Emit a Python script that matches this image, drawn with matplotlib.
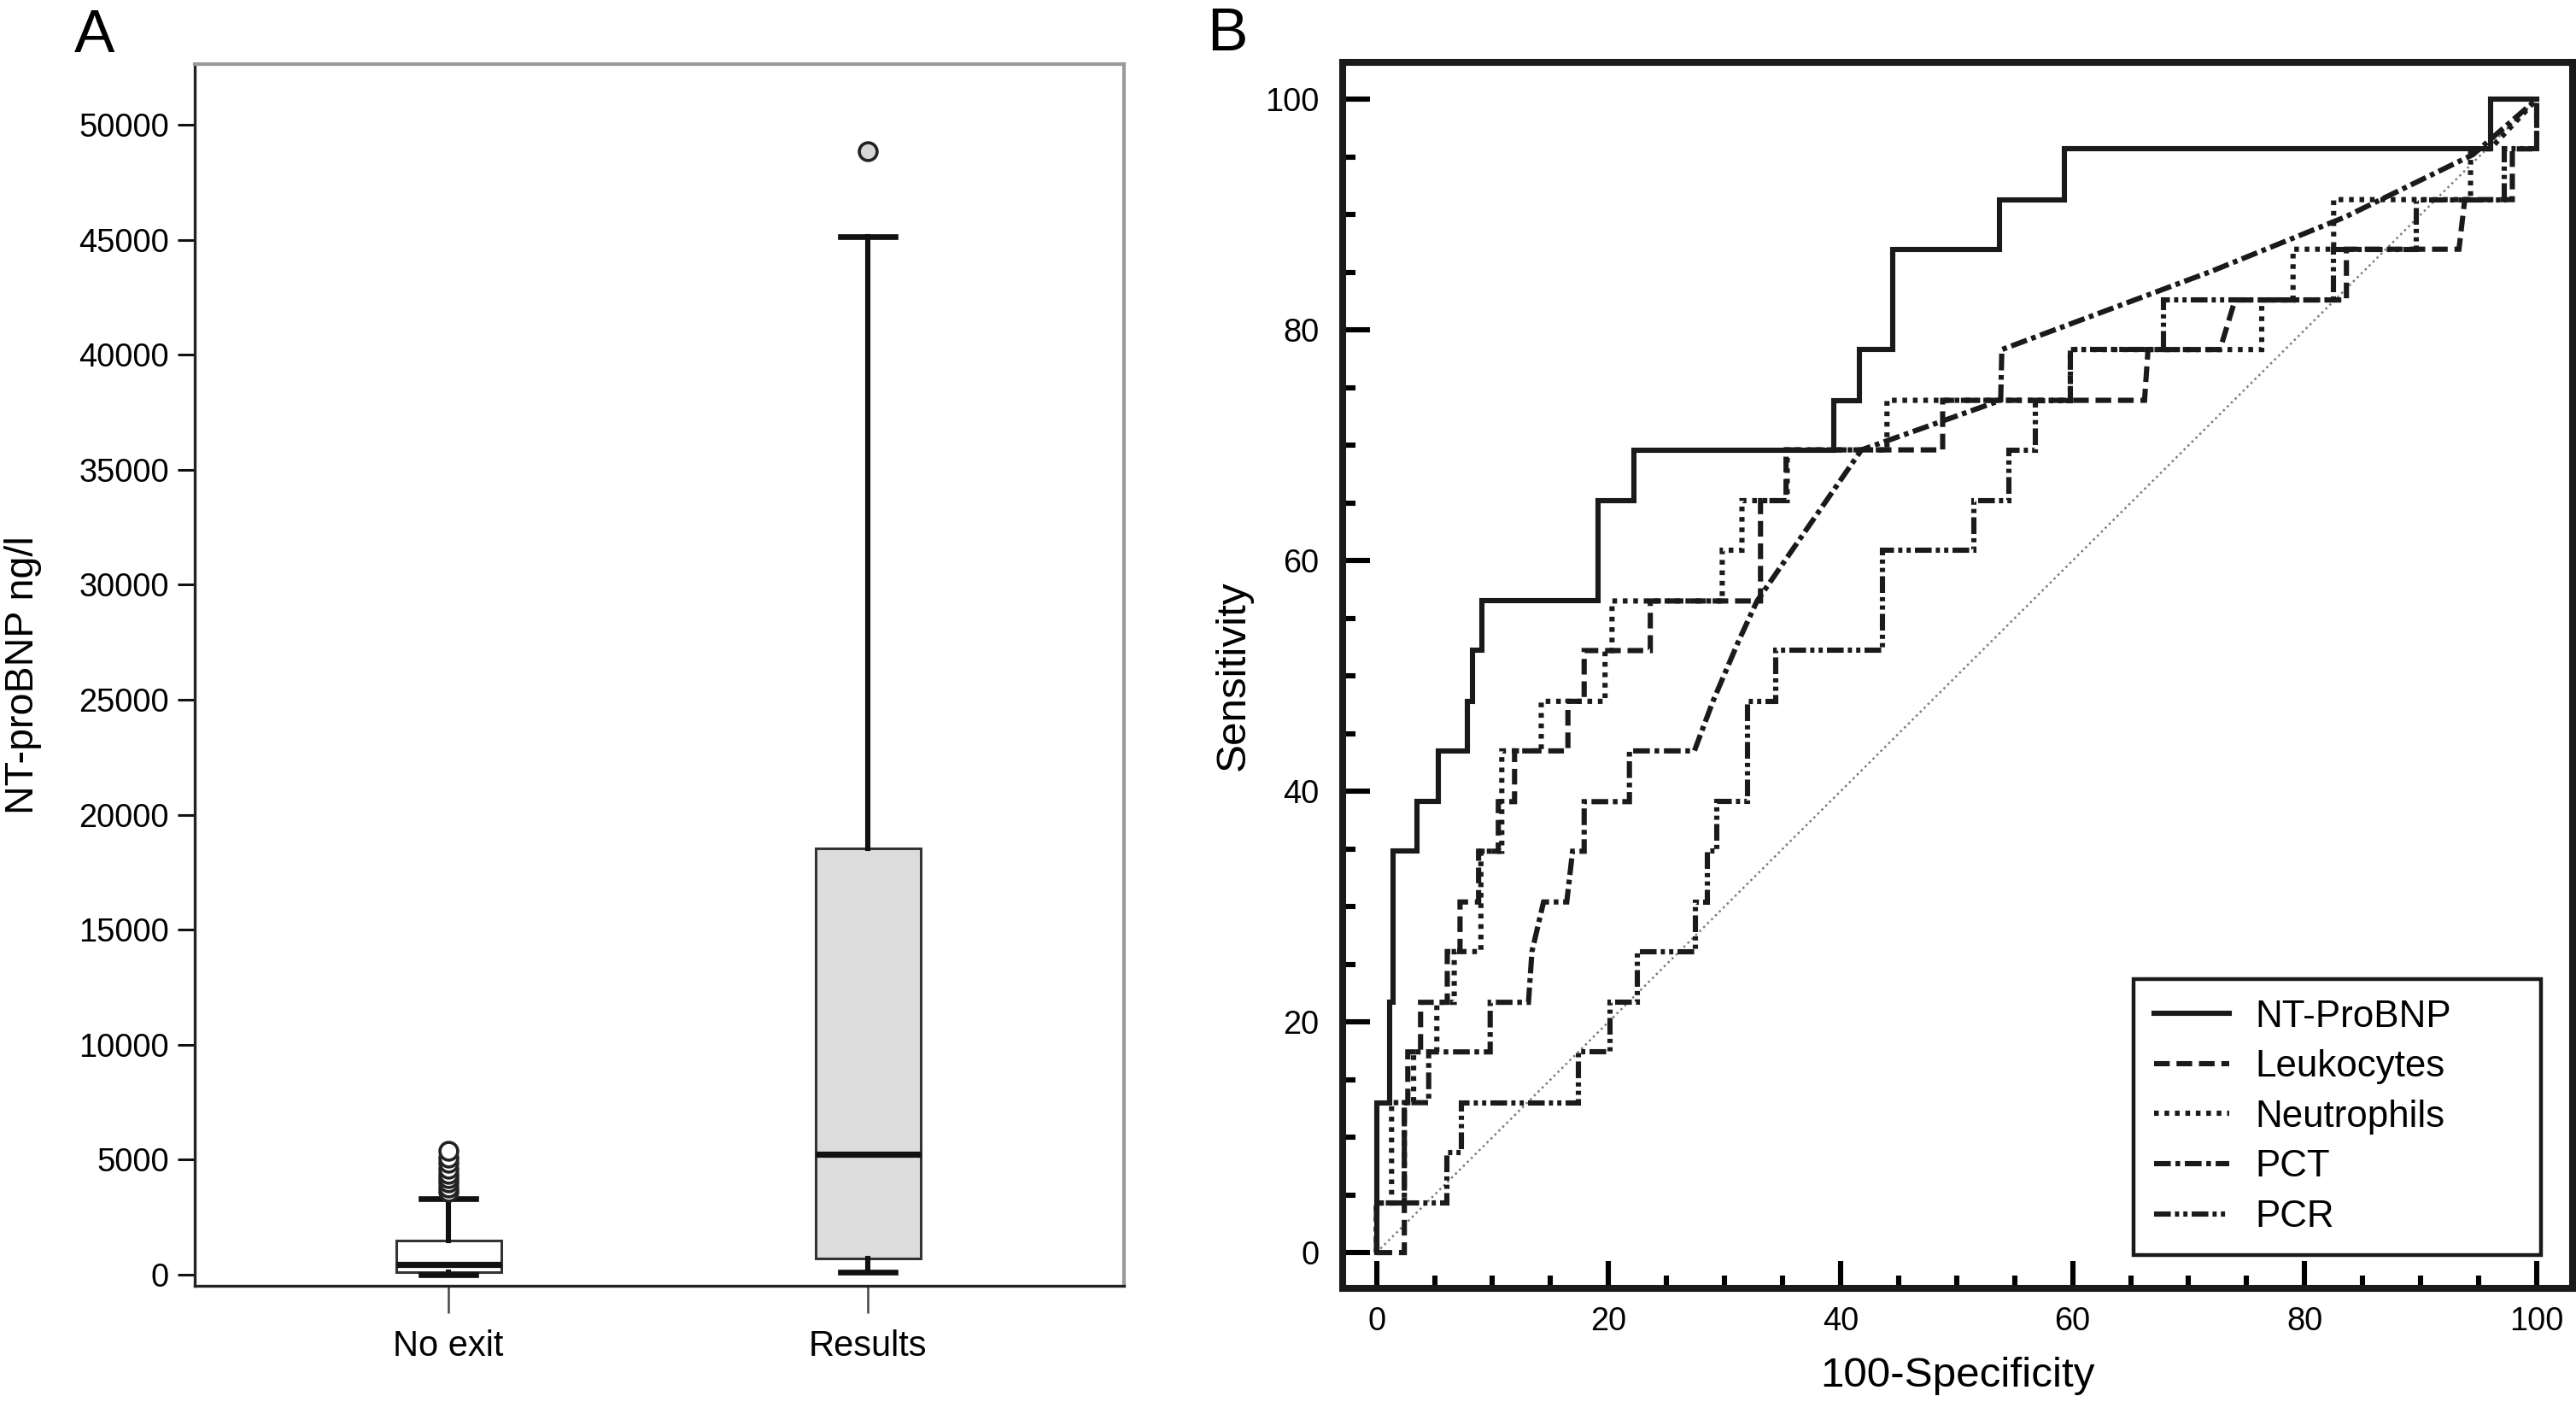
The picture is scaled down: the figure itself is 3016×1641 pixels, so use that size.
import numpy as np
import matplotlib
matplotlib.use('Agg')
import matplotlib.pyplot as plt
from matplotlib.ticker import MultipleLocator

plt.rcParams['font.family'] = ['Liberation Sans', 'DejaVu Sans']

# ---- panel A: NT-proBNP (ng/l) box plots ----
groups = ['No exit', 'Results']
whislo = [0, 130]
q1 = [110, 700]
med = [450, 5250]
q3 = [1500, 18550]
whishi = [3300, 45150]
fliers = [[3600, 3800, 4000, 4200, 4400, 4600, 4850, 5100, 5400], [48850]]
box_faces = ['white', '#dcdcdc']

# ---- panel B: ROC curves (100-specificity, sensitivity) ----
nt_x = [0, 0, 1.1, 1.1, 1.4, 1.4, 3.5, 3.5, 5.3, 5.3, 7.8, 7.8, 8.3, 8.3, 9.1, 9.1,
        19.1, 19.1, 22.2, 22.2, 39.4, 39.4, 41.6, 41.6, 44.5, 44.5, 53.7, 53.7,
        59.3, 59.3, 96.0, 96.0, 100]
nt_y = [0, 13.0, 13.0, 21.7, 21.7, 34.8, 34.8, 39.1, 39.1, 43.5, 43.5, 47.8, 47.8, 52.2, 52.2, 56.5,
        56.5, 65.2, 65.2, 69.6, 69.6, 73.9, 73.9, 78.3, 78.3, 87.0, 87.0, 91.3,
        91.3, 95.7, 95.7, 100, 100]

leu_x = [0, 2.4, 2.4, 2.7, 2.7, 3.8, 3.8, 6.1, 6.1, 7.2, 7.2, 8.8, 8.8, 10.5, 10.5, 11.9, 11.9,
         16.5, 16.5, 17.9, 17.9, 23.6, 23.6, 33.1, 33.1, 35.3, 35.3, 48.8, 48.8, 66.2, 66.5,
         72.7, 74.0, 83.6, 83.6, 93.3, 93.8, 97.9, 97.9, 100, 100]
leu_y = [0, 0, 13.0, 13.0, 17.4, 17.4, 21.7, 21.7, 26.1, 26.1, 30.4, 30.4, 34.8, 34.8, 39.1, 39.1, 43.5,
         43.5, 47.8, 47.8, 52.2, 52.2, 56.5, 56.5, 65.2, 65.2, 69.6, 69.6, 73.9, 73.9, 78.3,
         78.3, 82.6, 82.6, 87.0, 87.0, 91.3, 91.3, 95.7, 95.7, 100]

neu_x = [0, 0, 1.3, 1.3, 3.2, 3.2, 5.2, 5.2, 6.7, 6.7, 9.0, 9.0, 10.8, 10.8, 14.2, 14.2, 19.7, 19.7,
         20.3, 20.3, 29.8, 29.8, 31.5, 31.5, 35.4, 35.4, 44.0, 44.0, 59.8, 59.8, 76.3, 76.3,
         79.0, 79.0, 82.5, 82.5, 94.3, 94.3, 96.0, 100]
neu_y = [0, 4.3, 4.3, 13.0, 13.0, 17.4, 17.4, 21.7, 21.7, 26.1, 26.1, 34.8, 34.8, 43.5, 43.5, 47.8, 47.8, 52.2,
         52.2, 56.5, 56.5, 60.9, 60.9, 65.2, 65.2, 69.6, 69.6, 73.9, 73.9, 78.3, 78.3, 82.6,
         82.6, 87.0, 87.0, 91.3, 91.3, 95.7, 95.7, 100]

pct_x = [0, 0, 2.4, 2.4, 4.5, 4.5, 9.8, 9.8, 13.1, 13.4, 14.4, 16.4, 16.9, 17.9, 17.9, 21.8, 21.8,
         27.4, 29.0, 31.2, 32.8, 41.8, 53.8, 53.9, 72.0, 83.5, 94.5, 100]
pct_y = [0, 4.3, 4.3, 13.0, 13.0, 17.4, 17.4, 21.7, 21.7, 26.1, 30.4, 30.4, 34.8, 34.8, 39.1, 39.1, 43.5,
         43.5, 47.8, 53.0, 56.5, 69.6, 73.9, 78.3, 85.1, 89.8, 95.2, 100]

pcr_x = [0, 0, 6.1, 6.1, 7.3, 7.3, 17.4, 17.4, 20.1, 20.1, 22.5, 22.5, 27.5, 27.5, 28.5, 28.5,
         29.3, 29.3, 32.0, 32.0, 34.4, 34.4, 43.6, 43.6, 51.5, 51.5, 54.5, 54.5, 56.8, 56.8,
         59.8, 59.8, 67.8, 67.8, 82.5, 82.5, 89.6, 89.6, 97.2, 97.2, 100, 100]
pcr_y = [0, 4.3, 4.3, 8.7, 8.7, 13.0, 13.0, 17.4, 17.4, 21.7, 21.7, 26.1, 26.1, 30.4, 30.4, 34.8,
         34.8, 39.1, 39.1, 47.8, 47.8, 52.2, 52.2, 60.9, 60.9, 65.2, 65.2, 69.6, 69.6, 73.9,
         73.9, 78.3, 78.3, 82.6, 82.6, 87.0, 87.0, 91.3, 91.3, 95.7, 95.7, 100]

roc_labels = ['NT-ProBNP', 'Leukocytes', 'Neutrophils', 'PCT', 'PCR']
roc_x = [nt_x, leu_x, neu_x, pct_x, pcr_x]
roc_y = [nt_y, leu_y, neu_y, pct_y, pcr_y]
roc_styles = ['-', (0, (3.0, 1.3)), (0, (0.9, 1.1)),
              (0, (3.2, 0.9, 0.9, 0.9)), (0, (3.2, 0.8, 0.8, 0.8, 0.8, 0.8))]

fig = plt.figure(figsize=(15.08, 8.205), dpi=200)

# ================= panel A =================
axa = fig.add_axes([0.0756, 0.0829, 0.3607, 0.8714])
stats = []
for i in range(len(groups)):
    stats.append(dict(label=groups[i], whislo=whislo[i], q1=q1[i], med=med[i],
                      q3=q3[i], whishi=whishi[i], fliers=fliers[i]))
bp = axa.bxp(stats, positions=[1, 2], widths=0.25, capwidths=0.13, patch_artist=True,
             boxprops=dict(edgecolor='#333333', linewidth=1.1),
             whiskerprops=dict(color='#111111', linewidth=2.2),
             capprops=dict(color='#111111', linewidth=2.4),
             medianprops=dict(color='#111111', linewidth=2.6),
             flierprops=dict(marker='o', markersize=7.5, markerfacecolor='#d6d6d6',
                             markeredgecolor='#222222', markeredgewidth=1.3))
for patch, fc in zip(bp['boxes'], box_faces):
    patch.set_facecolor(fc)
bp['fliers'][0].set_markerfacecolor('white')

axa.set_xlim(0.395, 2.61)
axa.set_ylim(-480, 52640)
axa.set_yticks(np.arange(0, 50001, 5000))
axa.set_ylabel('NT-proBNP ng/l', fontsize=16.8)
axa.yaxis.set_label_coords(-0.165, 0.5)
axa.tick_params(axis='y', direction='out', length=7.2, width=1.1, pad=3.6,
                labelsize=13.7, color='#111111')
axa.tick_params(axis='x', direction='out', length=11.5, width=0.9, pad=7,
                labelsize=15, color='#444444')
for side in ['top', 'right']:
    axa.spines[side].set_color('#9a9a9a')
    axa.spines[side].set_linewidth(1.5)
for side in ['left', 'bottom']:
    axa.spines[side].set_color('#222222')
    axa.spines[side].set_linewidth(1.2)

# ================= panel B =================
axb = fig.add_axes([0.5212, 0.0810, 0.4775, 0.8745])
axb.plot([0, 100], [0, 100], color='#7a7a7a', linewidth=0.9, linestyle=(0, (1, 1.6)))
for xs, ys, ls, lab in zip(roc_x, roc_y, roc_styles, roc_labels):
    axb.plot(xs, ys, color='#1a1a1a', linewidth=2.2, linestyle=ls, label=lab,
             solid_joinstyle='miter', dash_joinstyle='miter')

axb.set_xlim(-2.92, 103.1)
axb.set_ylim(-3.11, 103.2)
axb.xaxis.set_major_locator(MultipleLocator(20))
axb.xaxis.set_minor_locator(MultipleLocator(5))
axb.yaxis.set_major_locator(MultipleLocator(20))
axb.yaxis.set_minor_locator(MultipleLocator(5))
axb.tick_params(which='major', direction='in', length=11.5, width=2.2, labelsize=13.7)
axb.tick_params(which='minor', direction='in', length=5.5, width=2.2)
axb.tick_params(axis='x', which='major', pad=7.5)
axb.tick_params(axis='y', which='major', pad=10)
for side in axb.spines:
    axb.spines[side].set_linewidth(2.9)
    axb.spines[side].set_color('#1a1a1a')

axb.set_xlabel('100-Specificity', fontsize=17.8)
axb.xaxis.set_label_coords(0.5, -0.0557)
axb.set_ylabel('Sensitivity', fontsize=17.8)
axb.yaxis.set_label_coords(-0.073, 0.5)

leg = axb.legend(loc='lower left', bbox_to_anchor=(0.643, 0.0272, 0.331, 0.224),
                 mode='expand', borderaxespad=0, fontsize=15.8, handlelength=2.0,
                 handletextpad=0.7, labelspacing=0.4, borderpad=0.55,
                 fancybox=False, framealpha=1)
leg.get_frame().set_edgecolor('#1a1a1a')
leg.get_frame().set_linewidth(1.6)

# panel letters
fig.text(87 / 3016, 1 - 61 / 1641, 'A', fontsize=25.6, va='baseline', ha='left')
fig.text(1413 / 3016, 1 - 59 / 1641, 'B', fontsize=25.6, va='baseline', ha='left')

fig.savefig('out.png', dpi=200)
